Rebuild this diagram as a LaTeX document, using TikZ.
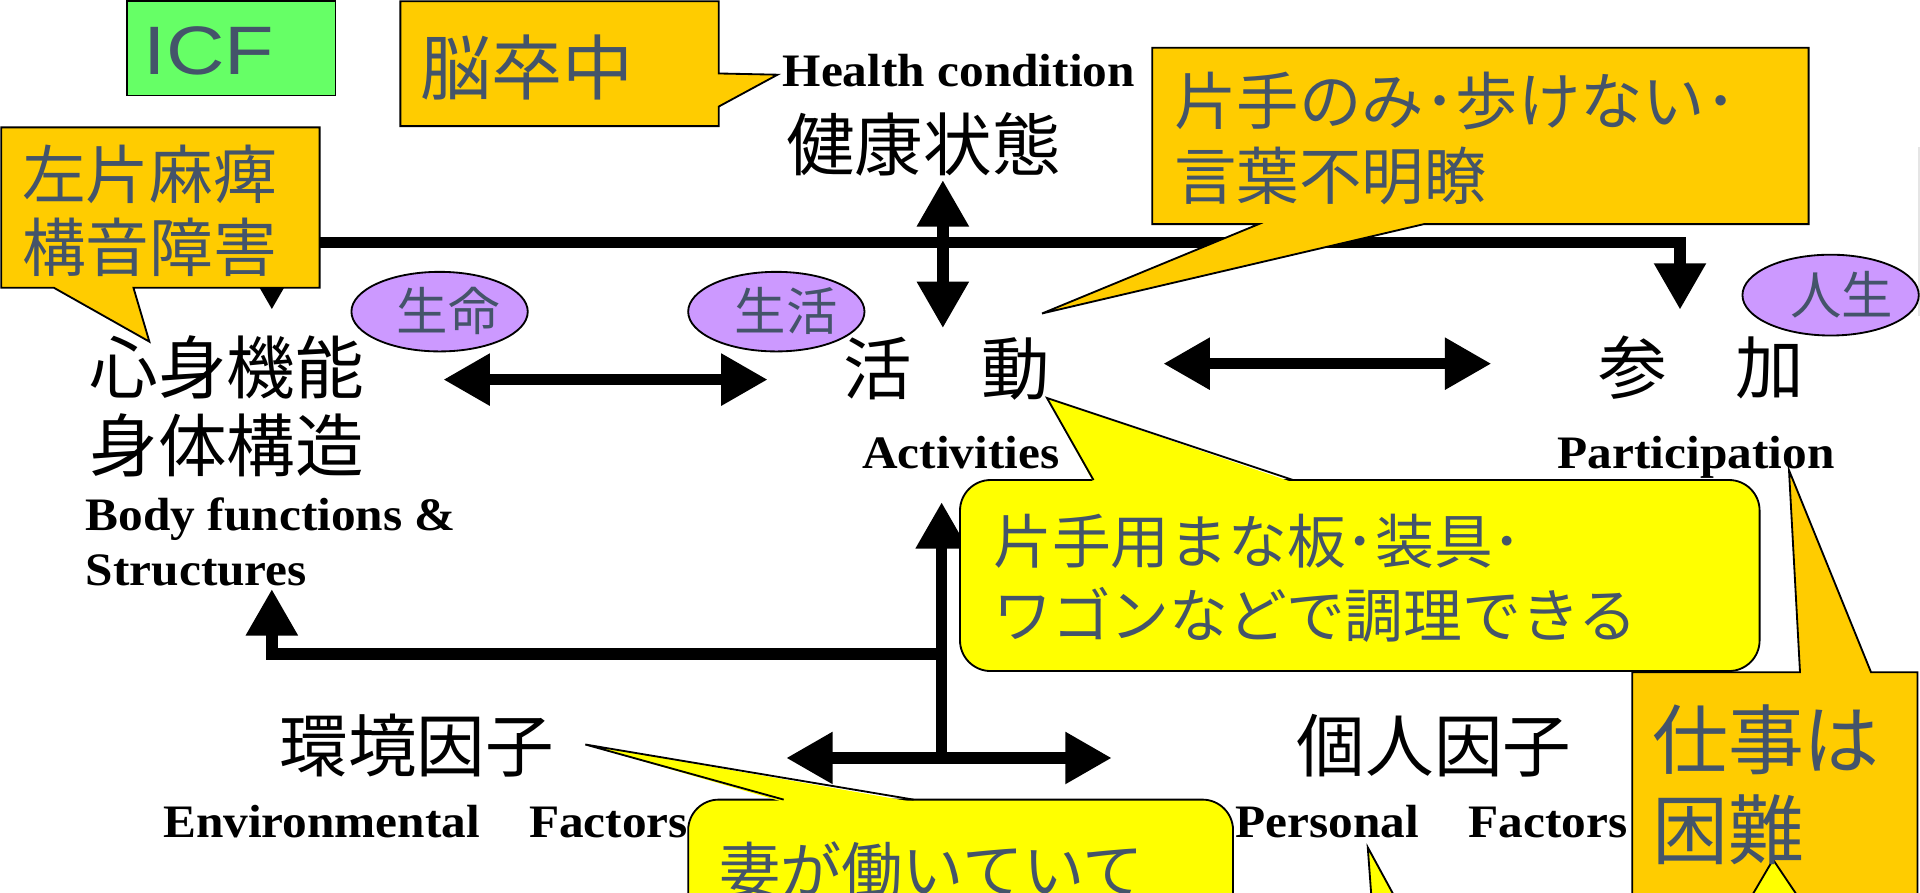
\documentclass[tikz,border=0pt]{standalone}
\usepackage{fontspec}
\setmainfont{Liberation Serif}
\newfontfamily\jpfont{Noto Sans CJK JP}
\newfontfamily\enfont[FakeStretch=1.06]{Liberation Serif}
\newfontfamily\icffont[FakeStretch=1.18]{Liberation Sans}
\usetikzlibrary{arrows.meta,shapes.geometric}
\definecolor{slate}{HTML}{44546A}
\definecolor{orng}{HTML}{FFCC00}
\definecolor{ylw}{HTML}{FFFF00}
\definecolor{grn}{HTML}{66FF66}
\definecolor{purp}{HTML}{CC99FF}
\newcommand\mytwo[3]{\vtop{\baselineskip=#3\hbox{#1}\hbox{#2}}}
\begin{document}
\begin{tikzpicture}[x=1pt,y=-1pt,
  callout/.style={draw=black, line width=1.5pt, line join=miter},
  ctext/.style={anchor=base west, inner sep=0pt, text=slate},
  blk/.style={anchor=base west, inner sep=0pt, text=black, font=\jpfont\fontsize{56}{60}\selectfont},
  eng/.style={anchor=base west, inner sep=0pt, text=black, font=\enfont\bfseries\fontsize{38}{45}\selectfont},
  arr/.style={line width=9.5pt, draw=black, >={Triangle[length=38pt,width=40pt]}},
  oval/.style={ellipse, draw=black, line width=1.5pt, fill=purp, inner sep=0pt, minimum width=144pt, minimum height=65pt}
]
\path[use as bounding box] (0,0) rectangle (1568,729);
\clip (0,0) rectangle (1568,729);
\fill[white] (0,0) rectangle (1568,729);

% coordinates for connectors
\coordinate (bfTop) at (222,253);
\coordinate (tl) at (222,198);
\coordinate (tr) at (1372,198);
\coordinate (paTop) at (1372,253);
\coordinate (hcA) at (770,147);
\coordinate (hcB) at (770,268);
\coordinate (bfR) at (362,310);
\coordinate (acL) at (627,310);
\coordinate (acR) at (950,297);
\coordinate (paL) at (1218,297);
\coordinate (acBot) at (769,410);
\coordinate (mid) at (769,619);
\coordinate (envR) at (642,619);
\coordinate (perL) at (908,619);
\coordinate (brA) at (769,534);
\coordinate (bfBot) at (222,481);

% arrows
\draw[arr,<->] (bfTop) -- (tl) -- (tr) -- (paTop);
\draw[arr,<->] (hcA) -- (hcB);
\draw[arr,<->] (bfR) -- (acL);
\draw[arr,<->] (acR) -- (paL);
\draw[arr,->] (mid) -- (acBot);
\draw[arr,<->] (envR) -- (perL);
\draw[arr,->] (brA) -| (bfBot);

% faint line at right edge
\draw[gray!20, line width=2pt] (1567,120) -- (1567,258);

% ICF box
\draw[callout, fill=grn] (104,1) rectangle (274,78);
\node[ctext, font=\icffont\fontsize{56}{60}\selectfont] (icf) at (117,61) {ICF};

% callouts
\draw[callout, fill=orng] (327,1) -- (587,1) -- (587,60) -- (635,61) -- (587,87) -- (587,103) -- (327,103) -- cycle;
\draw[callout, fill=orng] (1,104) -- (261,104) -- (261,235) -- (109,235) -- (122,279) -- (44,235) -- (1,235) -- cycle;
\draw[callout, fill=orng] (941,39) -- (1477,39) -- (1477,183) -- (1163,183) -- (851,256) -- (1028,183) -- (941,183) -- cycle;

\draw[callout, fill=ylw, rounded corners=25pt] (784,392) rectangle (1437,548);
\fill[ylw] (893,394) -- (855,325) -- (1056,394) -- cycle;
\draw[line width=1.5pt, line join=miter] (893,392) -- (855,325) -- (1056,392);

\draw[callout, fill=ylw, rounded corners=25pt] (562,653) rectangle (1007,800);
\fill[ylw] (640,655) -- (478,608) -- (746,655) -- cycle;
\draw[line width=1.5pt, line join=miter] (640,653) -- (478,608) -- (746,653);

\draw[callout, fill=orng] (1333,549) -- (1470,549) -- (1461,384) -- (1528,549) -- (1566,549) -- (1566,800) -- (1333,800) -- cycle;

\draw[callout, fill=ylw] (1448,702) -- (1487,760) -- (1414,760) -- cycle;
\draw[callout, fill=ylw] (1117,692) -- (1154,760) -- (1122,760) -- cycle;

% ovals
\node[oval] (o1) at (359,254.5) {};
\node[oval] (o2) at (634,254.5) {};
\node[oval, minimum height=66pt] (o3) at (1495,241) {};
\node[ctext, font=\jpfont\fontsize{42}{50}\selectfont] (t1) at (324,270) {生命};
\node[ctext, font=\jpfont\fontsize{42}{50}\selectfont] (t2) at (600,270) {生活};
\node[ctext, font=\jpfont\fontsize{42}{50}\selectfont] (t3) at (1462,257) {人生};

% callout texts
\node[ctext, font=\jpfont\fontsize{58}{60}\selectfont] (stroke) at (343,77) {脳卒中};
\node[ctext, font=\jpfont\fontsize{52}{60}\selectfont] (impair) at (18,162) {\mytwo{左片麻痺}{構音障害}{60pt}};
\node[ctext, font=\jpfont\fontsize{51}{60}\selectfont] (actlim) at (959,102) {\mytwo{片手のみ･歩けない･}{言葉不明瞭}{61pt}};
\node[ctext, font=\jpfont\fontsize{48}{60}\selectfont] (cook) at (811,460) {\mytwo{片手用まな板･装具･}{ワゴンなどで調理できる}{61pt}};
\node[ctext, font=\jpfont\fontsize{62}{70}\selectfont] (work) at (1349,628) {\mytwo{仕事は}{困難}{73pt}};
\node[ctext, font=\jpfont\fontsize{50}{60}\selectfont] (wife) at (587,730) {妻が働いていて};

% diagram labels
\node[eng] (hcE) at (639,71) {Health condition};
\node[blk] (hcJ) at (642,139) {健康状態};
\node[blk] (bfJ) at (73,321) {\mytwo{心身機能}{身体構造}{64pt}};
\node[eng] (bfE) at (70,433) {\mytwo{Body functions \&}{Structures}{45pt}};
\node[blk] (acJ) at (689,322) {活　動};
\node[eng] (acE) at (704,383) {Activities};
\node[blk] (paJ) at (1305,321) {参　加};
\node[eng] (paE) at (1272,383) {Participation};
\node[blk] (envJ) at (228,630) {環境因子};
\node[eng] (envE) at (133,684) {Environmental\hspace{40pt}Factors};
\node[blk] (perJ) at (1059,630) {個人因子};
\node[eng] (perE) at (1009,684) {Personal\hspace{40pt}Factors};
\end{tikzpicture}
\end{document}
